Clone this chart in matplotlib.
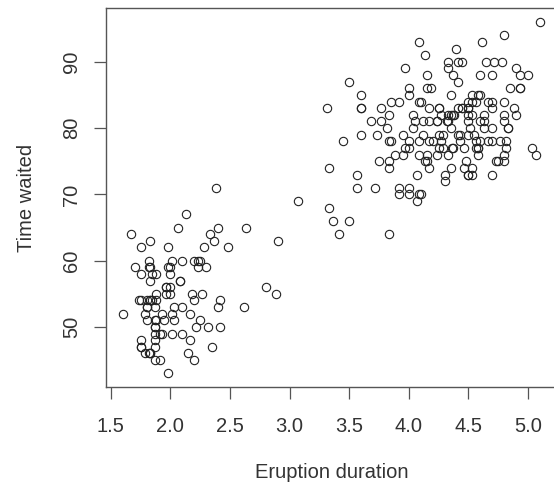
import matplotlib
matplotlib.use("Agg")
import matplotlib.pyplot as plt

# Old Faithful eruptions (R "faithful")
eruptions = [
    3.600, 1.800, 3.333, 2.283, 4.533, 2.883, 4.700, 3.600, 1.950, 4.350, 1.833, 3.917, 4.200, 1.750, 4.700, 2.167,
    1.750, 4.800, 1.600, 4.250, 1.800, 1.750, 3.450, 3.067, 4.533, 3.600, 1.967, 4.083, 3.850, 4.433, 4.300, 4.467,
    3.367, 4.033, 3.833, 2.017, 1.867, 4.833, 1.833, 4.783, 4.350, 1.883, 4.567, 1.750, 4.533, 3.317, 3.833, 2.100,
    4.633, 2.000, 4.800, 4.716, 1.833, 4.833, 1.733, 4.883, 3.717, 1.667, 4.567, 4.317, 2.233, 4.500, 1.750, 4.800,
    1.817, 4.400, 4.167, 4.700, 2.067, 4.700, 4.033, 1.967, 4.500, 4.000, 1.983, 5.067, 2.017, 4.567, 3.883, 3.600,
    4.133, 4.333, 4.100, 2.633, 4.067, 4.933, 3.950, 4.517, 2.167, 4.000, 2.200, 4.333, 1.867, 4.817, 1.833, 4.300,
    4.667, 3.750, 1.867, 4.900, 2.483, 4.367, 2.100, 4.500, 4.050, 1.867, 4.700, 1.783, 4.850, 3.683, 4.733, 2.300,
    4.900, 4.417, 1.700, 4.633, 2.317, 4.600, 1.817, 4.417, 2.617, 4.067, 4.250, 1.967, 4.600, 3.767, 1.917, 4.500,
    2.267, 4.650, 1.867, 4.167, 2.800, 4.333, 1.833, 4.383, 1.883, 4.933, 2.033, 3.733, 4.233, 2.233, 4.533, 4.817,
    4.333, 1.983, 4.633, 2.017, 5.100, 1.800, 5.033, 4.000, 2.400, 4.600, 3.567, 4.000, 4.500, 4.083, 1.800, 3.967,
    2.200, 4.150, 2.000, 3.833, 3.500, 4.583, 2.367, 5.000, 1.933, 4.617, 1.917, 2.083, 4.583, 3.333, 4.167, 4.333,
    4.500, 2.417, 4.000, 4.167, 1.883, 4.583, 4.250, 3.767, 2.033, 4.433, 4.083, 1.833, 4.417, 2.183, 4.800, 1.833,
    4.800, 4.100, 3.966, 4.233, 3.500, 4.366, 2.250, 4.667, 2.100, 4.350, 4.133, 1.867, 4.600, 1.783, 4.367, 3.850,
    1.933, 4.500, 2.383, 4.700, 1.867, 3.833, 3.417, 4.233, 2.400, 4.800, 2.000, 4.150, 1.867, 4.267, 1.750, 4.483,
    4.000, 4.117, 4.083, 4.267, 3.917, 4.550, 4.083, 2.417, 4.183, 2.217, 4.450, 1.883, 1.850, 4.283, 3.950, 2.333,
    4.150, 2.350, 4.933, 2.900, 4.583, 3.833, 2.083, 4.367, 2.133, 4.350, 2.200, 4.450, 3.567, 4.500, 4.150, 3.817,
    3.917, 4.450, 2.000, 4.283, 4.767, 4.533, 1.850, 4.250, 1.983, 2.250, 4.750, 4.117, 2.150, 4.417, 1.817, 4.467,
]
waiting = [
    79, 54, 74, 62, 85, 55, 88, 85, 51, 85, 54, 84, 78, 47, 83, 52, 62, 84, 52, 79, 51, 47, 78, 69, 74, 83, 55, 76,
    78, 79, 73, 77, 66, 80, 74, 52, 48, 80, 59, 90, 80, 58, 84, 58, 73, 83, 64, 53, 82, 59, 75, 90, 54, 80, 54, 83,
    71, 64, 77, 81, 59, 84, 48, 82, 60, 92, 78, 78, 65, 73, 82, 56, 79, 71, 62, 76, 60, 78, 76, 83, 75, 82, 70, 65,
    73, 88, 76, 80, 48, 86, 60, 90, 50, 78, 63, 72, 84, 75, 51, 82, 62, 88, 49, 83, 81, 47, 84, 52, 86, 81, 75, 59,
    89, 79, 59, 81, 50, 85, 59, 87, 53, 69, 77, 56, 88, 81, 45, 82, 55, 90, 45, 83, 56, 89, 46, 82, 51, 86, 53, 79,
    81, 60, 82, 77, 76, 59, 80, 49, 96, 53, 77, 77, 65, 81, 71, 70, 81, 93, 53, 89, 45, 86, 58, 78, 66, 76, 63, 88,
    52, 93, 49, 57, 77, 68, 81, 81, 73, 50, 85, 74, 55, 77, 83, 83, 51, 78, 84, 46, 83, 55, 81, 57, 76, 84, 77, 81,
    87, 77, 51, 78, 60, 82, 91, 53, 78, 46, 77, 84, 49, 83, 71, 80, 49, 75, 64, 76, 53, 94, 55, 76, 50, 82, 54, 75,
    78, 79, 78, 78, 70, 79, 70, 54, 86, 50, 90, 54, 54, 77, 79, 64, 75, 47, 86, 63, 85, 82, 57, 82, 67, 74, 54, 83,
    73, 73, 88, 80, 71, 83, 56, 79, 78, 84, 58, 83, 43, 60, 75, 81, 46, 90, 46, 74,
]
assert len(eruptions) == len(waiting), (len(eruptions), len(waiting))

xticks = [1.5, 2.0, 2.5, 3.0, 3.5, 4.0, 4.5, 5.0]
yticks = [50, 60, 70, 80, 90]

plt.rcParams['font.family'] = ['Liberation Sans', 'DejaVu Sans']

fig = plt.figure(figsize=(5.54, 4.93), dpi=100)
# R-style plot region; right edge runs slightly past the image
ax = fig.add_axes([106 / 554, 1 - 387.4 / 493, 450.6 / 554, 379.4 / 493])

ax.plot(eruptions, waiting, linestyle='none', marker='o', markersize=6.0,
        markerfacecolor='none', markeredgecolor='#222222', markeredgewidth=0.8)

# R pads the data range by 4% on each side
xr = max(eruptions) - min(eruptions)
yr = max(waiting) - min(waiting)
ax.set_xlim(min(eruptions) - 0.04 * xr, max(eruptions) + 0.04 * xr)
ax.set_ylim(min(waiting) - 0.04 * yr, max(waiting) + 0.04 * yr)

ax.set_xticks(xticks)
ax.set_xticklabels([f"{t:.1f}" for t in xticks])
ax.set_yticks(yticks)
ax.set_yticklabels([str(t) for t in yticks], rotation=90, va='center')

for s in ax.spines.values():
    s.set_color('#555555')
    s.set_linewidth(1.0)
ax.tick_params(direction='out', length=8.5, width=0.9, color='#555555',
               labelsize=14.5, labelcolor='#333333')
ax.tick_params(axis='x', pad=13)
ax.tick_params(axis='y', pad=9.5)

ax.set_xlabel("Eruption duration", fontsize=14.5, color='#333333', labelpad=19)
ax.set_ylabel("Time waited", fontsize=14.5, color='#333333', labelpad=19)

fig.savefig("out.png", dpi=100)
